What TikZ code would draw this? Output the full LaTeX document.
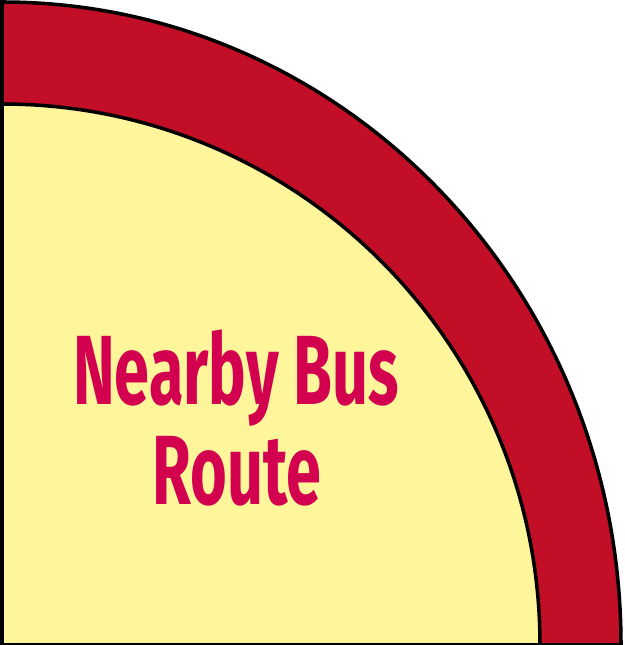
\documentclass[tikz,border=0pt]{standalone}
\usepackage{fontspec}
\newfontfamily\routefont{Fira Sans}
\definecolor{bandred}{HTML}{C20E26}
\definecolor{paleyellow}{HTML}{FFF59A}
\definecolor{labelpink}{HTML}{D2004F}
\tikzset{routelabel/.style={text=labelpink, anchor=base, inner sep=0pt, font=\routefont\bfseries\fontsize{56}{57}\selectfont}}
\begin{document}
\begin{tikzpicture}[line width=2pt]
    \useasboundingbox (0,0) rectangle (12.5,12.9);
    \clip (0,0) rectangle (12.5,12.9);

    % Banda exterior (roja)
    \draw[fill=bandred] (0.04,0) -- (0.04,12.86) arc[start angle=90, end angle=0, x radius=12.38, y radius=12.86] -- cycle;

    % Zona interior (amarilla)
    \draw[fill=paleyellow] (0.04,0) -- (0.04,10.82) arc[start angle=90, end angle=0, x radius=10.76, y radius=10.82] -- cycle;

    % Texto
    \node[routelabel] (nearby) at (4.72,4.8) {\scalebox{0.64}[1]{Nearby Bus}};
    \node[routelabel] (route) at (4.74,2.8) {\scalebox{0.64}[1]{Route}};
\end{tikzpicture}
\end{document}
